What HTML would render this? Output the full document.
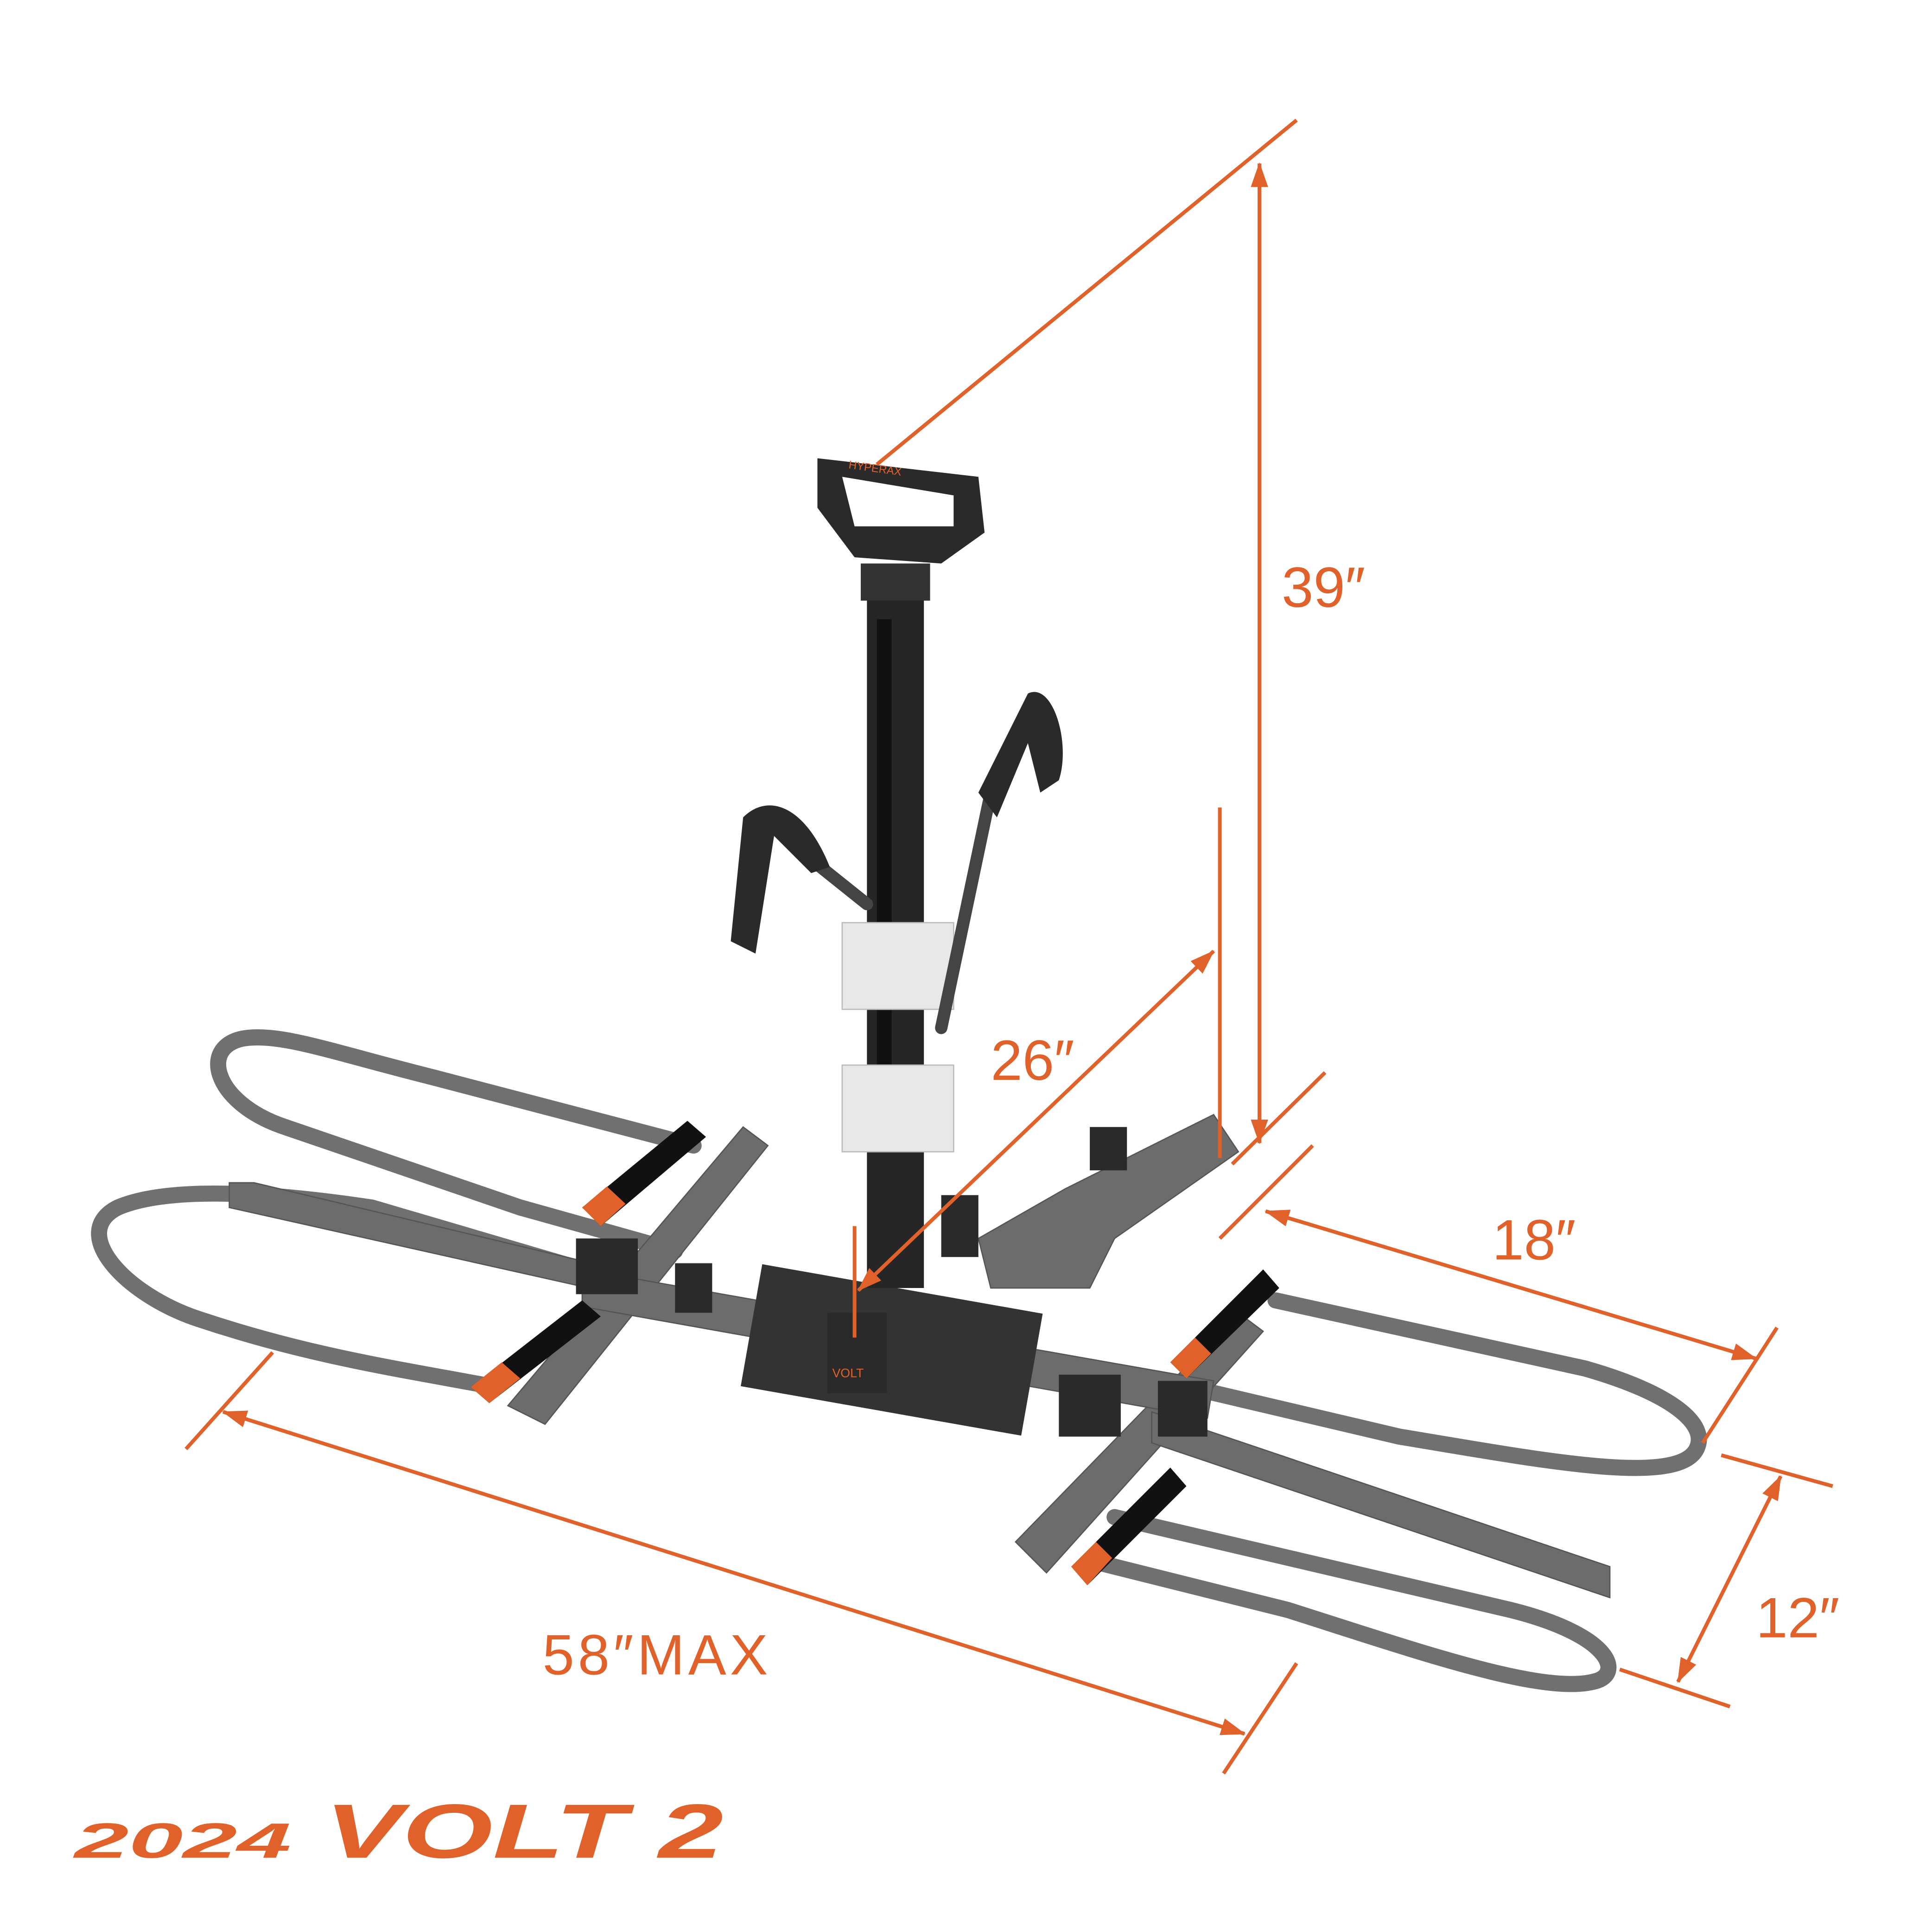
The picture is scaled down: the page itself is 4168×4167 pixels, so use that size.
<!DOCTYPE html>
<html><head><style>html,body{margin:0;padding:0;background:#fff}svg{display:block}</style></head>
<body>
<svg width="4168" height="4167" viewBox="0 0 1560 1560" xmlns="http://www.w3.org/2000/svg">
<defs>
<marker id="a" markerWidth="20" markerHeight="14" refX="19" refY="7" orient="auto-start-reverse" markerUnits="userSpaceOnUse"><path d="M0,0 L20,7 L0,14 z" fill="#e0622a"/></marker>
</defs>
<rect width="1560" height="1560" fill="#fff"/>
<g fill="none" stroke="#707070" stroke-width="13" stroke-linecap="round">
<path d="M560,925 L350,870 C270,850 230,835 200,838 C160,842 170,890 230,910 L420,975 L545,1010"/>
<path d="M470,1025 L300,975 C200,960 130,960 95,975 C55,995 100,1045 160,1065 C250,1095 320,1105 400,1120"/>
<path d="M1030,1050 L1280,1105 C1350,1125 1380,1150 1370,1170 C1355,1200 1250,1180 1130,1160 L960,1120"/>
<path d="M900,1225 L1220,1300 C1300,1320 1310,1350 1290,1357 C1250,1370 1150,1335 1040,1300 L880,1260"/>
</g>
<g fill="#6c6c6c" stroke="#555" stroke-width="1">
<polygon points="185,955 205,955 520,1030 520,1050 185,975"/>
<polygon points="410,1135 440,1150 620,925 600,910"/>
<polygon points="820,1245 845,1270 1020,1075 1000,1060"/>
<polygon points="930,1140 1300,1265 1300,1290 930,1165"/>
<polygon points="470,1025 980,1115 975,1145 470,1055"/>
<polygon points="860,960 980,900 1000,930 900,1000 880,1040 800,1040 790,1000"/>
</g>
<rect x="605" y="1040" width="230" height="100" fill="#333" transform="rotate(10 720 1090)"/>
<rect x="668" y="1060" width="48" height="65" fill="#2a2a2a"/>
<text x="672" y="1112" font-family="Liberation Sans,sans-serif" font-size="10" fill="#e0622a">VOLT</text>
<rect x="700" y="480" width="46" height="560" fill="#262626"/>
<rect x="708" y="500" width="12" height="430" fill="#111"/>
<rect x="695" y="455" width="56" height="30" fill="#333"/>
<path d="M660,370 L790,385 L795,430 L760,455 L690,450 L660,410 Z" fill="#2a2a2a"/>
<path d="M680,385 L770,400 L770,425 L690,425 Z" fill="#fff"/>
<text x="685" y="383" font-family="Liberation Sans,sans-serif" font-size="9" fill="#e0622a" transform="rotate(8 720 380)">HYPERAX</text>
<rect x="680" y="745" width="90" height="70" fill="#e8e8e8" stroke="#bbb"/>
<rect x="680" y="860" width="90" height="70" fill="#e8e8e8" stroke="#bbb"/>
<g stroke="#444" stroke-width="10" fill="none" stroke-linecap="round">
<path d="M760,830 L800,640"/>
<path d="M700,730 L650,690"/>
</g>
<path d="M790,640 L830,560 C850,550 865,600 855,630 L840,640 L830,600 L805,660 Z" fill="#2a2a2a"/>
<path d="M590,760 L600,660 C620,640 650,650 670,700 L655,705 L625,675 L610,770 Z" fill="#2a2a2a"/>
<g>
<polygon points="470,975 555,905 570,918 485,990" fill="#111"/><polygon points="470,975 490,958 505,972 485,990" fill="#e0622a"/>
<polygon points="380,1120 470,1050 485,1063 395,1133" fill="#111"/><polygon points="380,1120 405,1100 420,1113 395,1133" fill="#e0622a"/>
<polygon points="945,1100 1020,1025 1033,1040 958,1113" fill="#111"/><polygon points="945,1100 965,1080 978,1093 958,1113" fill="#e0622a"/>
<polygon points="865,1265 945,1185 958,1200 878,1280" fill="#111"/><polygon points="865,1265 885,1245 898,1258 878,1280" fill="#e0622a"/>
</g>
<g fill="#2a2a2a">
<rect x="465" y="1000" width="50" height="45"/><rect x="545" y="1020" width="30" height="40"/>
<rect x="855" y="1110" width="50" height="50"/><rect x="935" y="1115" width="40" height="45"/>
<rect x="880" y="910" width="30" height="35"/>
<rect x="760" y="965" width="30" height="50"/>
</g>
<g stroke="#e0622a" stroke-width="3" fill="none">
<line x1="1047" y1="97" x2="708" y2="375"/>
<line x1="1017" y1="132" x2="1017" y2="923" marker-start="url(#a)" marker-end="url(#a)"/>
<line x1="985" y1="652" x2="985" y2="935"/>
<line x1="980" y1="768" x2="693" y2="1042" marker-start="url(#a)" marker-end="url(#a)"/>
<line x1="690" y1="990" x2="690" y2="1080"/>
<line x1="1070" y1="866" x2="995" y2="940"/>
<line x1="1060" y1="925" x2="985" y2="1000"/>
<line x1="1022" y1="978" x2="1418" y2="1097" marker-start="url(#a)" marker-end="url(#a)"/>
<line x1="1435" y1="1072" x2="1375" y2="1165"/>
<line x1="1390" y1="1175" x2="1480" y2="1200"/>
<line x1="1308" y1="1348" x2="1397" y2="1378"/>
<line x1="1438" y1="1192" x2="1355" y2="1358" marker-start="url(#a)" marker-end="url(#a)"/>
<line x1="220" y1="1092" x2="150" y2="1170"/>
<line x1="1047" y1="1343" x2="988" y2="1432"/>
<line x1="180" y1="1140" x2="1005" y2="1400" marker-start="url(#a)" marker-end="url(#a)"/>
</g>
<g font-family="Liberation Sans,sans-serif" font-size="46" fill="#e0622a">
<text x="1035" y="490">39″</text>
<text x="800" y="872">26″</text>
<text x="1205" y="1017">18″</text>
<text x="1418" y="1322">12″</text>
<text x="438" y="1352" textLength="182">58″MAX</text>
</g>
<g font-family="Liberation Sans,sans-serif" font-weight="bold" font-style="italic" fill="#e0622a">
<text x="60" y="1500" font-size="40" textLength="175" lengthAdjust="spacingAndGlyphs">2024</text>
<text x="262" y="1500" font-size="62" textLength="322" lengthAdjust="spacingAndGlyphs">VOLT 2</text>
</g>
</svg>
</body></html>
